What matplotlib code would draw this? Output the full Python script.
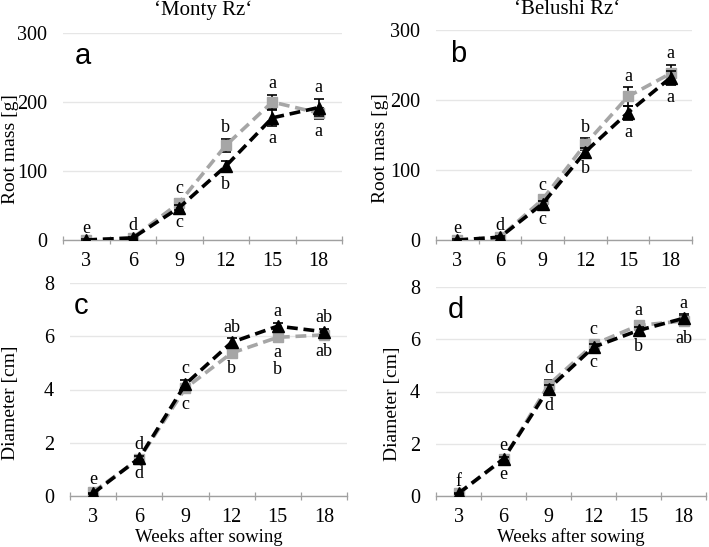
import matplotlib.pyplot as plt
import numpy as np

plt.rcParams['font.family'] = ['Liberation Serif', 'DejaVu Serif']

weeks = ['3', '6', '9', '12', '15', '18']

# root mass [g]
monty_mass_black = [0, 3, 47, 107, 177, 192]
monty_mass_black_err = [1, 1, 4, 8, 12, 12]
monty_mass_gray = [0, 3, 54, 137, 200, 184]
monty_mass_gray_err = [1, 1, 5, 9, 10, 8]
belushi_mass_black = [0, 4, 52, 126, 182, 232]
belushi_mass_black_err = [1, 1, 4, 6, 10, 10]
belushi_mass_gray = [0, 4, 58, 137, 205, 238]
belushi_mass_gray_err = [1, 1, 4, 8, 13, 12]

# diameter [cm]
monty_diam_black = [0.10, 1.42, 4.20, 5.77, 6.38, 6.17]
monty_diam_black_err = [0.03, 0.08, 0.15, 0.15, 0.12, 0.12]
monty_diam_gray = [0.15, 1.40, 4.05, 5.37, 5.96, 6.05]
monty_diam_gray_err = [0.03, 0.08, 0.15, 0.12, 0.10, 0.15]
belushi_diam_black = [0.10, 1.42, 4.10, 5.70, 6.34, 6.80]
belushi_diam_black_err = [0.03, 0.08, 0.15, 0.12, 0.12, 0.15]
belushi_diam_gray = [0.10, 1.40, 4.25, 5.80, 6.53, 6.70]
belushi_diam_gray_err = [0.03, 0.08, 0.18, 0.15, 0.15, 0.18]

# significance letters above / below the points
letters_a_top = ['e', 'd', 'c', 'b', 'a', 'a']
letters_a_bot = ['', '', 'c', 'b', 'a', 'a']
letters_b_top = ['e', 'd', 'c', 'b', 'a', 'a']
letters_b_bot = ['', '', 'c', 'b', 'a', 'a']
letters_c_top = ['e', 'd', 'c', 'ab', 'a', 'ab']
letters_c_bot = ['', 'd', 'c', 'b', 'a\nb', 'ab']
letters_d_top = ['f', 'e', 'd', 'c', 'a', 'a']
letters_d_bot = ['', 'e', 'd', 'c', 'b', 'ab']

W, H = 709, 547
fig = plt.figure(figsize=(W / 100, H / 100), dpi=100)


def make_axes(x0, x1, ytop, ybot):
    return fig.add_axes([x0 / W, 1 - ybot / H, (x1 - x0) / W, (ybot - ytop) / H])


def panel(ax, black, black_err, gray, gray_err, top, bot, ymax, ystep,
          letter, letter_pos, ylabel, ylabel_x):
    x = np.arange(len(weeks))
    gray_c = '#a6a6a6'
    ax.errorbar(x, gray, yerr=gray_err, color=gray_c, ls='--', lw=2.6, dashes=(3, 1.6),
                marker='s', ms=6.5, mfc=gray_c, mec=gray_c, ecolor='black',
                elinewidth=1.2, capsize=3.5, capthick=1.2, zorder=3)
    ax.errorbar(x, black, yerr=black_err, color='black', ls='--', lw=2.6, dashes=(3, 1.6),
                marker='^', ms=8, mfc='black', mec='black', ecolor='black',
                elinewidth=1.2, capsize=3.5, capthick=1.2, zorder=4)
    hi = np.maximum(np.array(black) + black_err, np.array(gray) + gray_err)
    lo = np.minimum(np.array(black) - black_err, np.array(gray) - gray_err)
    for i in range(len(weeks)):
        if top[i]:
            ax.annotate(top[i], (x[i], hi[i]), xytext=(0, 2), textcoords='offset points',
                        ha='center', va='bottom', fontsize=13, linespacing=1.0)
        if bot[i]:
            ax.annotate(bot[i], (x[i], lo[i]), xytext=(0, -3), textcoords='offset points',
                        ha='center', va='top', fontsize=13, linespacing=1.0)
    ax.set_xlim(-0.5, len(weeks) - 0.5)
    ax.set_ylim(0, ymax)
    ax.set_xticks(x)
    ax.set_xticklabels(weeks)
    ax.set_xticks(np.arange(-0.5, len(weeks)), minor=True)
    ax.set_yticks(np.arange(0, ymax + ystep / 2, ystep))
    ax.tick_params(axis='x', which='major', length=0, pad=9, labelsize=14.5)
    ax.tick_params(axis='x', which='minor', length=6, direction='inout', color='#a0a0a0', width=0.9)
    ax.tick_params(axis='y', length=0, pad=11.5, labelsize=14.5)
    ax.grid(axis='y', color='#e6e6e6', lw=1)
    ax.set_axisbelow(True)
    for s in ['top', 'right', 'left']:
        ax.spines[s].set_visible(False)
    ax.spines['bottom'].set_color('#a0a0a0')
    ax.spines['bottom'].set_linewidth(1)
    ax.spines['bottom'].set_zorder(1)
    ax.set_ylabel(ylabel, fontsize=14)
    ax.yaxis.set_label_coords(ylabel_x, 0.44)
    ax.text(letter_pos[0], letter_pos[1], letter, transform=ax.transAxes, fontsize=21,
            family='Liberation Sans', ha='center', va='center')


ax_a = make_axes(63, 342, 33, 240)
ax_b = make_axes(436, 692, 30, 240)
ax_c = make_axes(70, 347, 283, 496)
ax_d = make_axes(436, 706, 287, 496)

panel(ax_a, monty_mass_black, monty_mass_black_err, monty_mass_gray, monty_mass_gray_err,
      letters_a_top, letters_a_bot, 300, 100, 'a', (0.07, 0.89), 'Root mass [g]', -0.158)
panel(ax_b, belushi_mass_black, belushi_mass_black_err, belushi_mass_gray, belushi_mass_gray_err,
      letters_b_top, letters_b_bot, 300, 100, 'b', (0.086, 0.885), 'Root mass [g]', -0.185)
panel(ax_c, monty_diam_black, monty_diam_black_err, monty_diam_gray, monty_diam_gray_err,
      letters_c_top, letters_c_bot, 8, 2, 'c', (0.04, 0.89), 'Diameter [cm]', -0.184)
panel(ax_d, belushi_diam_black, belushi_diam_black_err, belushi_diam_gray, belushi_diam_gray_err,
      letters_d_top, letters_d_bot, 8, 2, 'd', (0.074, 0.89), 'Diameter [cm]', -0.13)

fig.text(203 / W, 1 - 10 / H, '\u2018Monty Rz\u2018', ha='center', va='center', fontsize=15)
fig.text(567 / W, 1 - 10 / H, '\u2018Belushi Rz\u2018', ha='center', va='center', fontsize=15)
ax_c.set_xlabel('Weeks after sowing', fontsize=13.5)
ax_d.set_xlabel('Weeks after sowing', fontsize=13.5)
ax_c.xaxis.set_label_coords(0.5, -0.152)
ax_d.xaxis.set_label_coords(0.5, -0.155)

fig.savefig('out.png', dpi=100)
